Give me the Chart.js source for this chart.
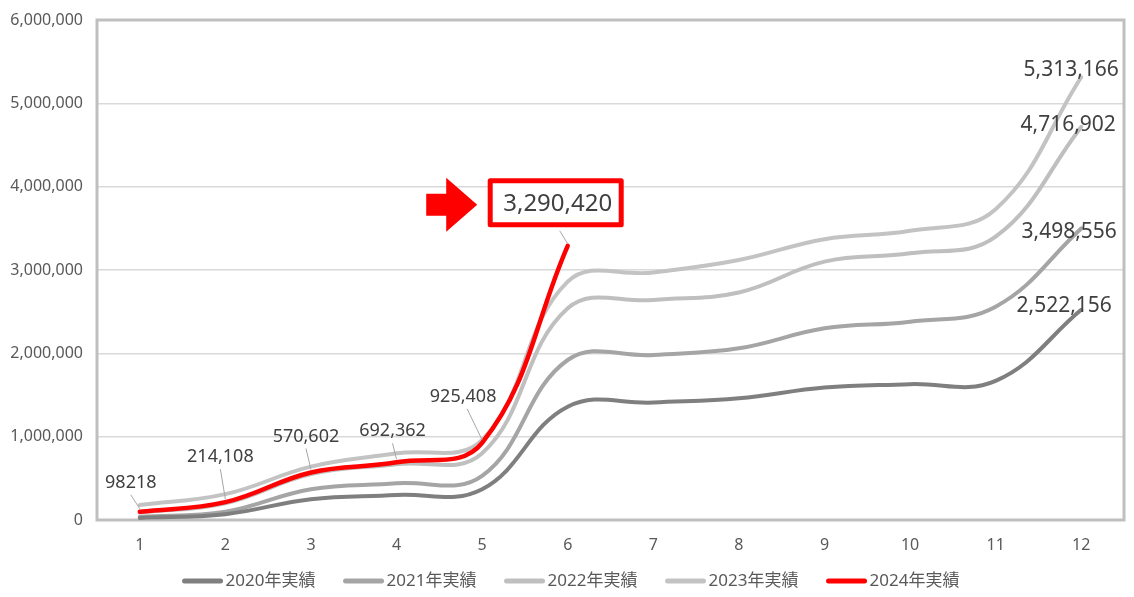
<!DOCTYPE html>
<html>
<head>
<meta charset="utf-8">
<script src="https://cdn.jsdelivr.net/npm/chart.js@4.4.1/dist/chart.umd.min.js"></script>
<style>
  html, body { margin: 0; padding: 0; background: #fff; }
  #wrap { width: 1134px; height: 597px; position: relative; }
</style>
</head>
<body>
<div id="wrap"><canvas id="chart"></canvas></div>
<script>
const months = ["1", "2", "3", "4", "5", "6", "7", "8", "9", "10", "11", "12"];
const seriesNames = ["2020年実績", "2021年実績", "2022年実績", "2023年実績", "2024年実績"];
const sales2020 = [25000, 70000, 250000, 300000, 370000, 1360000, 1410000, 1460000, 1590000, 1630000, 1670000, 2522156];
const sales2021 = [40000, 100000, 370000, 440000, 530000, 1920000, 1980000, 2060000, 2300000, 2380000, 2560000, 3498556];
const sales2022 = [90000, 200000, 550000, 670000, 800000, 2540000, 2640000, 2730000, 3100000, 3200000, 3400000, 4716902];
const sales2023 = [180000, 310000, 640000, 800000, 960000, 2860000, 2970000, 3120000, 3370000, 3470000, 3730000, 5313166];
const sales2024 = [98218, 214108, 570602, 692362, 925408, 3290420];
const yTicks = [0, 1000000, 2000000, 3000000, 4000000, 5000000, 6000000];

const FONT = '"Noto Sans", "Noto Sans CJK JP", sans-serif';
const fmt = (v) => v.toLocaleString("en-US");

// label offsets (px) for the 2024 points, relative to each point
const redLabelOffsets = [[-9, -29], [-5, -45], [-5, -36], [-4, -31], [-19, -46]];
// end-of-line labels for the older years: [datasetIndex, dx, dy]
const endLabelOffsets = [[0, -17, -4], [1, -12, 4], [2, -13, -2], [3, -10, -7]];

const excelLook = {
    id: "excelLook",
    beforeDatasetsDraw(chart) {
        const { ctx, chartArea: a } = chart;
        ctx.save();
        ctx.strokeStyle = "#bfbfbf";
        ctx.lineWidth = 3;
        ctx.strokeRect(a.left, a.top, a.right - a.left, a.bottom - a.top);
        ctx.restore();
    },
    afterDatasetsDraw(chart) {
        const ctx = chart.ctx;
        ctx.save();
        ctx.textAlign = "center";
        ctx.textBaseline = "middle";

        // older years: value at the right end
        ctx.fillStyle = "#404040";
        ctx.font = "21px " + FONT;
        endLabelOffsets.forEach(([ds, dx, dy]) => {
            const pts = chart.getDatasetMeta(ds).data;
            const p = pts[pts.length - 1];
            const v = chart.data.datasets[ds].data[pts.length - 1];
            ctx.fillText(fmt(v), p.x + dx, p.y + dy);
        });

        // 2024: labels with leader lines
        const redMeta = chart.getDatasetMeta(4).data;
        ctx.font = "18px " + FONT;
        redLabelOffsets.forEach(([dx, dy], i) => {
            const p = redMeta[i];
            const lx = p.x + dx, ly = p.y + dy;
            ctx.strokeStyle = "#a6a6a6";
            ctx.lineWidth = 1;
            ctx.beginPath();
            ctx.moveTo(lx + (dx < -10 ? 4 : 0), ly + 12);
            ctx.lineTo(p.x, p.y - 3);
            ctx.stroke();
            ctx.fillStyle = "#404040";
            ctx.fillText(i === 0 ? String(sales2024[i]) : fmt(sales2024[i]), lx, ly);
        });

        // latest month: boxed value with a red arrow
        const last = redMeta[redMeta.length - 1];
        const bx = last.x - 12, by = last.y - 43;
        const bw = 131, bh = 44;
        const left = bx - bw / 2, top = by - bh / 2;
        ctx.strokeStyle = "#a6a6a6";
        ctx.lineWidth = 1;
        ctx.beginPath();
        ctx.moveTo(last.x - 8, top + bh + 6);
        ctx.lineTo(last.x, last.y - 2);
        ctx.stroke();
        ctx.fillStyle = "#ffffff";
        ctx.fillRect(left, top, bw, bh);
        ctx.strokeStyle = "#ff0000";
        ctx.lineWidth = 5;
        ctx.lineJoin = "round";
        ctx.strokeRect(left, top, bw, bh);
        ctx.fillStyle = "#404040";
        ctx.font = "24px " + FONT;
        ctx.fillText(fmt(sales2024[sales2024.length - 1]), bx + 2, by + 1);

        const tip = left - 13, mid = by + 2;
        ctx.fillStyle = "#ff0000";
        ctx.beginPath();
        ctx.moveTo(tip - 51, mid - 11);
        ctx.lineTo(tip - 31, mid - 11);
        ctx.lineTo(tip - 31, mid - 27);
        ctx.lineTo(tip, mid);
        ctx.lineTo(tip - 31, mid + 27);
        ctx.lineTo(tip - 31, mid + 11);
        ctx.lineTo(tip - 51, mid + 11);
        ctx.closePath();
        ctx.fill();
        ctx.restore();
    },
    afterDraw(chart) {
        // Excel-style legend: short thick line, text right after it
        const ctx = chart.ctx;
        const step = 161, lineLen = 40, gap = 3;
        const y = 581;
        ctx.save();
        ctx.font = "17px " + FONT;
        ctx.textBaseline = "middle";
        ctx.textAlign = "left";
        const items = chart.data.datasets;
        const lastW = lineLen + gap + ctx.measureText(items[items.length - 1].label).width;
        const total = step * (items.length - 1) + lastW;
        let x = 571 - total / 2;
        items.forEach((ds) => {
            ctx.strokeStyle = ds.borderColor;
            ctx.lineWidth = 5;
            ctx.lineCap = "round";
            ctx.beginPath();
            ctx.moveTo(x + 2, y);
            ctx.lineTo(x + lineLen - 2, y);
            ctx.stroke();
            ctx.fillStyle = "#595959";
            ctx.fillText(ds.label, x + lineLen + gap, y);
            x += step;
        });
        ctx.restore();
    },
};

function line(label, data, color, width, order) {
    return {
        label,
        data,
        borderColor: color,
        backgroundColor: color,
        borderWidth: width,
        borderCapStyle: "round",
        pointRadius: 0,
        pointHoverRadius: 0,
        tension: 0.4,
        order,
    };
}

new Chart(document.getElementById("chart"), {
    type: "line",
    data: {
        labels: months,
        datasets: [
            line(seriesNames[0], sales2020, "#7f7f7f", 4, 1),
            line(seriesNames[1], sales2021, "#a5a5a5", 4, 2),
            line(seriesNames[2], sales2022, "#bfbfbf", 4, 3),
            line(seriesNames[3], sales2023, "#c3c3c3", 4, 4),
            line(seriesNames[4], sales2024, "#ff0000", 4.5, 0),
        ],
    },
    options: {
        responsive: true,
        maintainAspectRatio: false,
        animation: false,
        layout: { padding: { top: 20, right: 10, left: 0, bottom: 37 } },
        plugins: {
            tooltip: { enabled: false },
            legend: { display: false },
        },
        scales: {
            x: {
                offset: true,
                grid: { display: false },
                border: { display: false },
                ticks: { color: "#595959", font: { family: FONT, size: 16 }, padding: 8 },
                afterFit: (s) => { s.height = 40; },
            },
            y: {
                min: 0,
                max: 6000000,
                afterBuildTicks: (s) => { s.ticks = yTicks.map((v) => ({ value: v })); },
                grid: { color: "#d9d9d9", lineWidth: 1.5, drawTicks: false },
                border: { display: false },
                ticks: {
                    color: "#595959",
                    font: { family: FONT, size: 16 },
                    padding: 14,
                    callback: (v) => fmt(v),
                },
                afterFit: (s) => {
                    s.width = 97;
                    s.paddingTop = 0;
                    s.paddingBottom = 0;
                },
            },
        },
    },
    plugins: [excelLook],
});
</script>
</body>
</html>
